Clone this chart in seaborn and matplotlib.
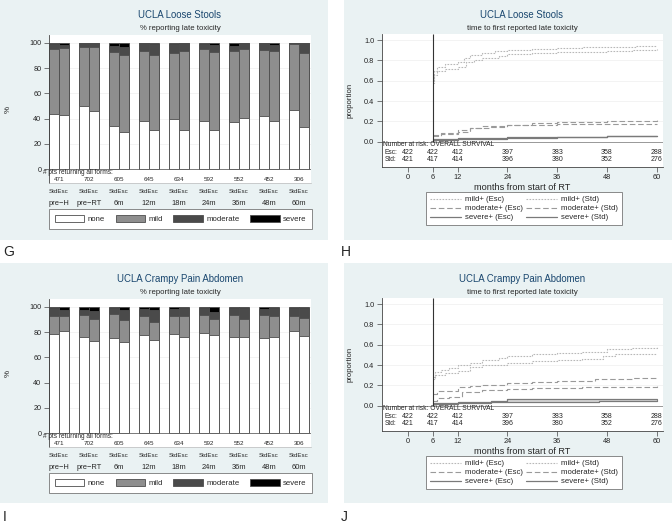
import matplotlib
matplotlib.use('Agg')
import matplotlib.pyplot as plt
import seaborn as sns
import pandas as pd
from matplotlib.patches import Rectangle, Patch
from matplotlib.lines import Line2D

# ---- data ----
timepoints = ['pre-H', 'pre-RT', '6m', '12m', '18m', '24m', '36m', '48m', '60m']
n_forms = [471, 702, 605, 645, 634, 592, 552, 452, 306]
grades = ['none', 'mild', 'moderate', 'severe']

# % per grade (none, mild, moderate, severe) for each timepoint
stools_std = [[43.8, 51.7, 3.7, 0.8], [49.6, 46.9, 3.2, 0.3], [34.5, 58.1, 4.7, 2.7],
              [37.9, 55.5, 6.3, 0.3], [40.0, 51.8, 7.4, 0.8], [38.2, 57.3, 3.7, 0.8],
              [36.9, 57.0, 4.0, 2.1], [41.9, 52.8, 5.3, 0.0], [47.2, 52.3, 0.5, 0.0]]
stools_esc = [[43.2, 52.6, 2.6, 1.6], [45.9, 50.6, 3.5, 0.0], [29.2, 61.5, 6.4, 2.9],
              [31.0, 59.7, 8.5, 0.8], [31.0, 62.9, 6.1, 0.0], [31.0, 61.8, 5.6, 1.6],
              [40.3, 54.7, 5.0, 0.0], [38.2, 55.7, 4.5, 1.6], [33.7, 58.1, 8.2, 0.0]]
pain_std = [[78.8, 14.0, 6.4, 0.8], [76.1, 17.5, 4.0, 2.4], [75.1, 19.6, 4.5, 0.8],
            [77.5, 15.3, 5.9, 1.3], [78.2, 14.6, 5.9, 1.3], [79.3, 14.1, 6.1, 0.5],
            [76.4, 17.2, 5.3, 1.1], [75.3, 18.1, 5.0, 1.6], [80.9, 11.9, 6.7, 0.5]]
pain_esc = [[80.9, 11.9, 4.5, 2.7], [72.9, 17.5, 6.2, 3.4], [72.1, 17.6, 7.9, 2.4],
            [73.7, 14.1, 9.8, 2.4], [75.9, 16.9, 6.7, 0.5], [77.7, 12.7, 5.9, 3.7],
            [76.4, 13.8, 9.0, 0.8], [76.4, 16.4, 6.4, 0.8], [76.9, 14.1, 7.9, 1.1]]

# time to first late toxicity (step curves), months / proportion
risk_months = [0, 6, 12, 24, 36, 48, 60]
risk_esc = [422, 422, 412, 397, 383, 358, 288]
risk_std = [421, 417, 414, 396, 380, 352, 276]

h_mild_esc_t = [6, 6.4, 7, 9, 12, 13.5, 15, 18, 21, 24, 30, 36, 42, 48, 55, 60]
h_mild_esc_v = [0.58, 0.70, 0.74, 0.76, 0.78, 0.82, 0.85, 0.87, 0.89, 0.90, 0.91, 0.92, 0.93, 0.93, 0.94, 0.94]
h_mild_std_t = [6, 6.4, 7, 9, 12, 14, 16, 18, 22, 24, 30, 36, 42, 48, 54, 60]
h_mild_std_v = [0.60, 0.66, 0.70, 0.72, 0.74, 0.78, 0.80, 0.82, 0.84, 0.86, 0.87, 0.88, 0.885, 0.89, 0.90, 0.91]
h_mod_esc_t = [6, 8, 12, 15, 18, 24, 30, 36, 48, 60]
h_mod_esc_v = [0.07, 0.09, 0.12, 0.13, 0.15, 0.16, 0.18, 0.19, 0.20, 0.21]
h_mod_std_t = [6, 8, 12, 15, 20, 24, 36, 48, 60]
h_mod_std_v = [0.06, 0.08, 0.10, 0.13, 0.14, 0.16, 0.17, 0.17, 0.17]
h_sev_esc_t = [6, 12, 24, 36, 48, 60]
h_sev_esc_v = [0.03, 0.035, 0.045, 0.05, 0.06, 0.06]
h_sev_std_t = [6, 12, 24, 36, 48, 60]
h_sev_std_v = [0.02, 0.03, 0.04, 0.045, 0.055, 0.06]

j_mild_esc_t = [6, 6.5, 8, 10, 12, 15, 18, 22, 24, 30, 36, 42, 48, 54, 60]
j_mild_esc_v = [0.28, 0.33, 0.35, 0.37, 0.40, 0.42, 0.45, 0.47, 0.49, 0.51, 0.52, 0.53, 0.56, 0.57, 0.58]
j_mild_std_t = [6, 6.5, 9, 12, 15, 18, 24, 30, 36, 42, 47, 50, 60]
j_mild_std_v = [0.26, 0.30, 0.32, 0.34, 0.38, 0.40, 0.42, 0.44, 0.45, 0.46, 0.49, 0.51, 0.51]
j_mod_esc_t = [6, 7, 12, 15, 18, 24, 30, 36, 45, 54, 60]
j_mod_esc_v = [0.12, 0.14, 0.18, 0.19, 0.20, 0.22, 0.23, 0.24, 0.26, 0.27, 0.28]
j_mod_std_t = [6, 7, 10, 13, 18, 24, 30, 42, 54, 60]
j_mod_std_v = [0.05, 0.08, 0.09, 0.13, 0.15, 0.16, 0.17, 0.18, 0.18, 0.20]
j_sev_esc_t = [6, 12, 20, 24, 60]
j_sev_esc_v = [0.03, 0.04, 0.05, 0.065, 0.065]
j_sev_std_t = [6, 12, 20, 36, 46, 60]
j_sev_std_v = [0.015, 0.025, 0.035, 0.04, 0.05, 0.06]

# ---- style ----
sns.set_theme(style='white')
plt.rcParams['font.family'] = ['Liberation Sans', 'DejaVu Sans']
plt.rcParams['axes.linewidth'] = 0.6

W, H = 672, 529
BG = '#eaf2f3'
NAVY = '#1a476f'
grade_colors = ['#ffffff', '#8e8e8e', '#4a4a4a', '#000000']

fig = plt.figure(figsize=(W / 100, H / 100), dpi=100, facecolor='white')


def add_ax(l, t, r, b):
    return fig.add_axes([l / W, 1 - b / H, (r - l) / W, (b - t) / H])


def ftext(x, y, s, **kw):
    fig.text(x / W, 1 - y / H, s, **kw)


for (x0, y0) in [(0, 0), (344, 0), (0, 263), (344, 263)]:
    fig.patches.append(Rectangle((x0 / W, 1 - (y0 + 240) / H), 328 / W, 240 / H,
                                 transform=fig.transFigure, facecolor=BG,
                                 edgecolor='none', zorder=-10))


def bar_panel(dy, std, esc, title):
    ax = add_ax(49, 35 + dy, 311, 183 + dy)
    rows = []
    for arm, data in [('Std', std), ('Esc', esc)]:
        for tp, vals in zip(timepoints, data):
            cum = 0
            for g, v in zip(grades, vals):
                cum += v
                rows.append({'time': tp, 'arm': arm, 'grade': g, 'cum': cum})
    df = pd.DataFrame(rows)
    ax.yaxis.grid(True, color='#eeeeee', lw=0.5)
    ax.set_axisbelow(True)
    for g, c in reversed(list(zip(grades, grade_colors))):
        sub = df[df['grade'] == g]
        sns.barplot(data=sub, x='time', y='cum', hue='arm', hue_order=['Std', 'Esc'],
                    order=timepoints, palette=[c, c], width=0.66, gap=0,
                    saturation=1, errorbar=None, edgecolor='#4d4d4d', linewidth=0.6,
                    legend=False, ax=ax)
    ax.set_xlim(-0.335, 8.4)
    ax.set_ylim(-11.1, 106.3)
    ax.axhline(0, color='#666666', lw=0.6)
    ax.set_xticks([])
    ax.set_xlabel('')
    ax.set_yticks(range(0, 101, 20))
    ax.tick_params(axis='y', labelsize=5.2, length=3.5, width=0.5, pad=2,
                   left=True, color='#444444')
    ax.set_ylabel('%', fontsize=5.8)
    ax.yaxis.set_label_coords(-0.141, 0.5)
    for s in ['top', 'right']:
        ax.spines[s].set_visible(False)
    ax.spines['left'].set_color('#444444')
    ax.spines['bottom'].set_color('#bbbbbb')
    ax.spines['bottom'].set_linewidth(0.5)

    ax.text(-0.53, -2.6, '# pts returning all forms:', fontsize=4.7, ha='left',
            va='center', clip_on=False)
    for i, (tp, n) in enumerate(zip(timepoints, n_forms)):
        ax.text(i, -8.0, str(n), fontsize=4.5, ha='center', va='center')
        ax.text(i, -17.5, 'StdEsc', fontsize=4.5, ha='center', va='center', clip_on=False)
        ax.text(i, -27.0, tp.replace('-', '\u2212'), fontsize=5.4, ha='center',
                va='center', clip_on=False)

    handles = [Patch(facecolor=c, edgecolor='#4d4d4d', lw=0.6) for c in grade_colors]
    leg = ax.legend(handles, grades, loc='upper left', bbox_to_anchor=(0, -0.311, 1.004, 0.135),
                    mode='expand', ncol=4, fontsize=5.6, handlelength=3.8, handleheight=1.0,
                    handletextpad=0.4, borderpad=0.75, fancybox=False, framealpha=1,
                    edgecolor='#777777', borderaxespad=0)
    leg.get_frame().set_linewidth(0.6)

    ftext(180, 15 + dy, title, fontsize=6.9, color=NAVY, ha='center', va='center')
    ftext(180, 29 + dy, '% reporting late toxicity', fontsize=5.6, ha='center', va='center')


def step(ax, t, v, **kw):
    sns.lineplot(x=t, y=v, drawstyle='steps-post', estimator=None, sort=False, ax=ax, **kw)


def km_panel(dy, curves, title):
    ax = add_ax(382, 34 + dy, 663, 166.5 + dy)
    ax.set_facecolor('white')
    ax.set_xlim(-6.2, 61.5)
    ax.set_ylim(-0.244, 1.06)
    for yv in [0.2, 0.4, 0.6, 0.8, 1.0]:
        ax.axhline(yv, color='#efefef', lw=0.5, zorder=0)
    ax.axhline(0, color='#888888', lw=0.6, zorder=1)
    ax.vlines(6, 0, 1.06, color='#333333', lw=0.8, zorder=3)

    (me_t, me_v, ms_t, ms_v, oe_t, oe_v, os_t, os_v, se_t, se_v, ss_t, ss_v) = curves
    mild_kw = dict(color='#b8b8b8', lw=0.8, linestyle=(0, (1.5, 1.2)))
    mod_kw = dict(color='#9a9a9a', lw=0.8, linestyle=(0, (5, 2.5)))
    sev_kw = dict(color='#7a7a7a', lw=0.9, linestyle='-')

    # light band between the two severe+ curves
    sev = pd.DataFrame({'t': sorted(set(se_t) | set(ss_t))})
    sev['a'] = sev['t'].map(lambda x: se_v[max(i for i, tt in enumerate(se_t) if tt <= x)])
    sev['b'] = sev['t'].map(lambda x: ss_v[max(i for i, tt in enumerate(ss_t) if tt <= x)])
    ax.fill_between(sev['t'], sev['a'], sev['b'], step='post', color='#d8d8d8', lw=0, zorder=1.5)

    step(ax, me_t, me_v, **mild_kw)
    step(ax, ms_t, ms_v, **mild_kw)
    step(ax, oe_t, oe_v, **mod_kw)
    step(ax, os_t, os_v, **mod_kw)
    step(ax, se_t, se_v, **sev_kw)
    step(ax, ss_t, ss_v, **sev_kw)

    ax.set_yticks([0, 0.2, 0.4, 0.6, 0.8, 1.0])
    ax.set_yticklabels(['0.0', '0.2', '0.4', '0.6', '0.8', '1.0'])
    ax.set_xticks(risk_months)
    ax.tick_params(axis='both', labelsize=5.3, length=3.5, width=0.5, pad=2,
                   left=True, bottom=True, color='#444444')
    ax.set_xlabel('months from start of RT', fontsize=6.6, labelpad=1)
    ax.set_ylabel('proportion', fontsize=5.6)
    ax.yaxis.set_label_coords(-0.10, 0.5)
    for s in ['top', 'right']:
        ax.spines[s].set_visible(False)
    for s in ['left', 'bottom']:
        ax.spines[s].set_color('#444444')

    ax.text(-6.0, -0.03, 'Number at risk: OVERALL SURVIVAL', fontsize=4.8, ha='left', va='center')
    ax.text(-5.5, -0.105, 'Esc:', fontsize=4.8, ha='left', va='center')
    ax.text(-5.5, -0.178, 'Std:', fontsize=4.8, ha='left', va='center')
    for m, e, s in zip(risk_months, risk_esc, risk_std):
        ax.text(m, -0.105, str(e), fontsize=5.0, ha='center', va='center', clip_on=False)
        ax.text(m, -0.178, str(s), fontsize=5.0, ha='center', va='center', clip_on=False)

    handles = [Line2D([], [], **mild_kw), Line2D([], [], **mild_kw),
               Line2D([], [], **mod_kw), Line2D([], [], **mod_kw),
               Line2D([], [], **sev_kw), Line2D([], [], **sev_kw)]
    labels = ['mild+ (Esc)', 'mild+ (Std)', 'moderate+ (Esc)', 'moderate+ (Std)',
              'severe+ (Esc)', 'severe+ (Std)']
    # reorder so rows read Esc | Std
    order = [0, 2, 4, 1, 3, 5]
    leg = ax.legend([handles[i] for i in order], [labels[i] for i in order],
                    loc='upper center', bbox_to_anchor=(0.505, -0.192), ncol=2,
                    fontsize=5.6, handlelength=4.0, handletextpad=0.5, columnspacing=0.4,
                    labelspacing=0.2, borderpad=0.5, fancybox=False, framealpha=1,
                    edgecolor='#777777', borderaxespad=0)
    leg.get_frame().set_linewidth(0.6)

    ftext(522, 15 + dy, title, fontsize=6.9, color=NAVY, ha='center', va='center')
    ftext(522, 28 + dy, 'time to first reported late toxicity', fontsize=5.6,
          ha='center', va='center')


bar_panel(0, stools_std, stools_esc, 'UCLA Loose Stools')
km_panel(0, [h_mild_esc_t, h_mild_esc_v, h_mild_std_t, h_mild_std_v,
             h_mod_esc_t, h_mod_esc_v, h_mod_std_t, h_mod_std_v,
             h_sev_esc_t, h_sev_esc_v, h_sev_std_t, h_sev_std_v], 'UCLA Loose Stools')
bar_panel(264, pain_std, pain_esc, 'UCLA Crampy Pain Abdomen')
km_panel(264, [j_mild_esc_t, j_mild_esc_v, j_mild_std_t, j_mild_std_v,
               j_mod_esc_t, j_mod_esc_v, j_mod_std_t, j_mod_std_v,
               j_sev_esc_t, j_sev_esc_v, j_sev_std_t, j_sev_std_v], 'UCLA Crampy Pain Abdomen')

for lab, x, y in [('G', 3, 252), ('H', 341, 252), ('I', 3, 517), ('J', 341, 517)]:
    ftext(x, y, lab, fontsize=10, ha='left', va='center')

fig.savefig('out.png', dpi=100, facecolor='white')
